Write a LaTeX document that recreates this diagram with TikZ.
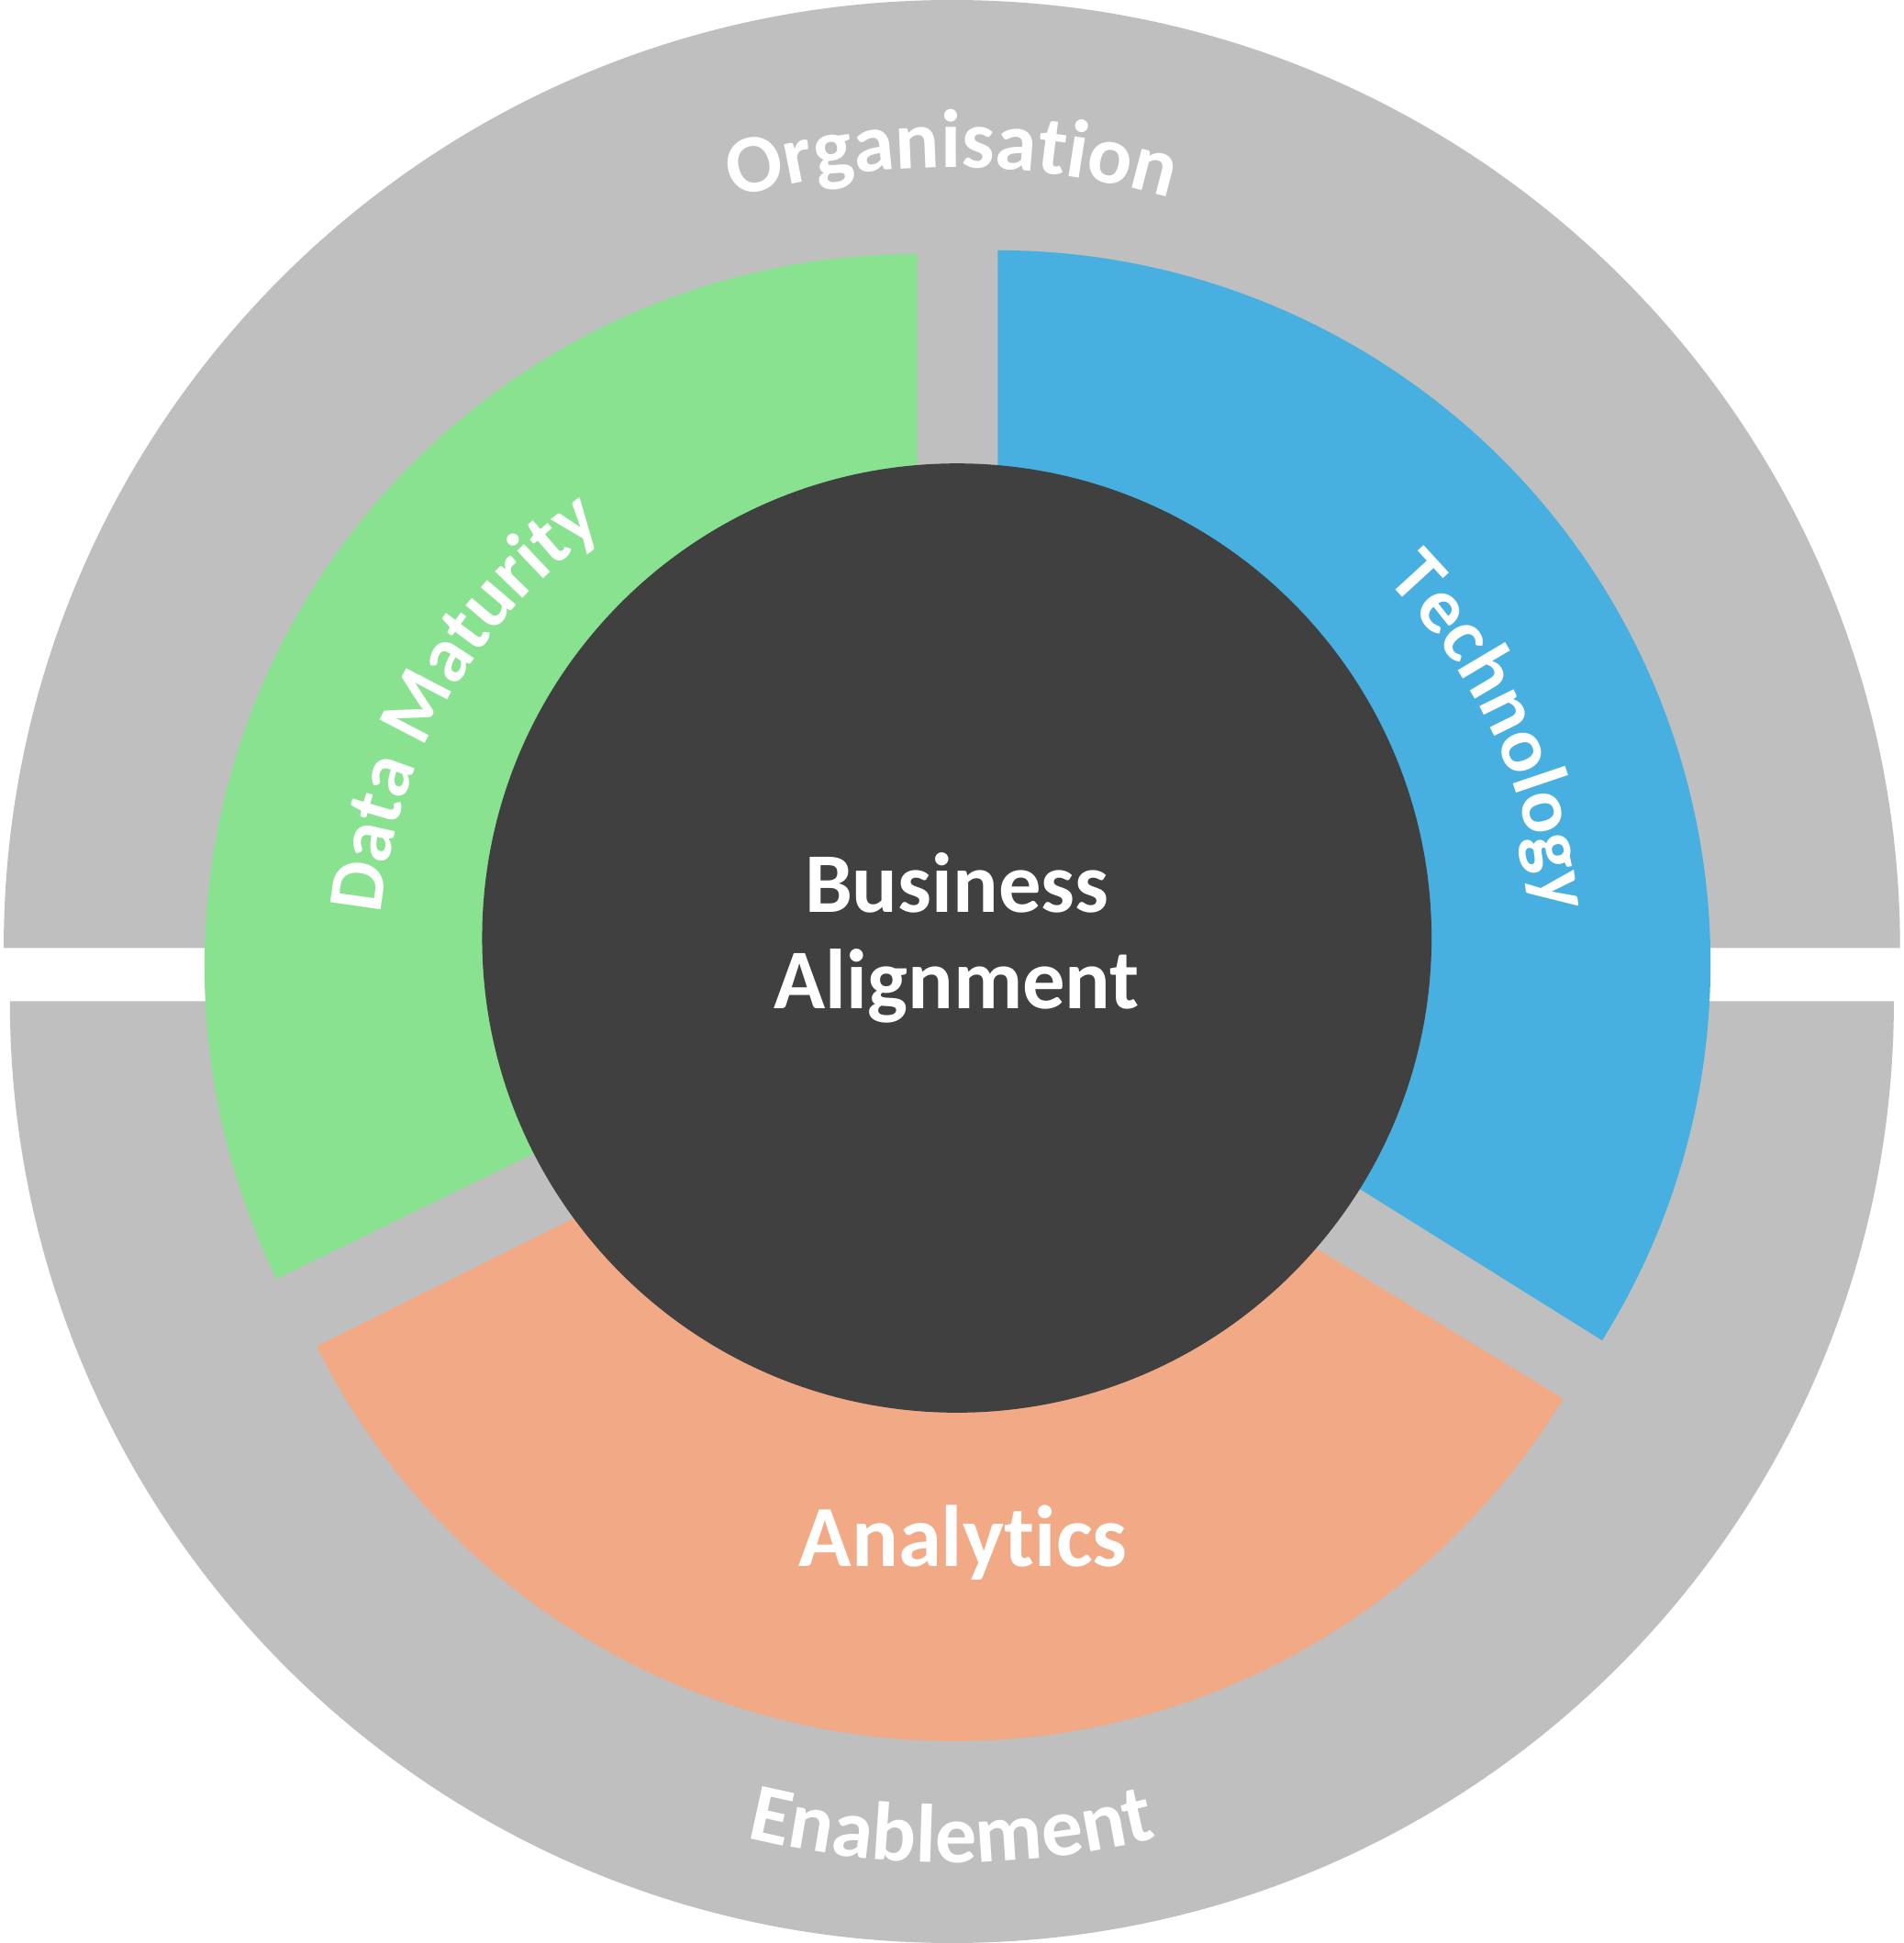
\documentclass[tikz,border=0pt]{standalone}
\usepackage{fontspec}
\setmainfont{Carlito}[Ligatures=NoCommon]
\usetikzlibrary{decorations.text}
\definecolor{ringgray}{HTML}{BFBFBF}
\definecolor{datagreen}{HTML}{88E290}
\definecolor{techblue}{HTML}{47B0E0}
\definecolor{anaorange}{HTML}{F1AA85}
\definecolor{coredark}{HTML}{404040}
\tikzset{
  lbl/.style={text=white,font=\bfseries\fontsize{19.5}{24}\selectfont,align=center},
  curved/.style={decorate,decoration={text along path,text align=center,
    text color=white,text={#1}}}
}
\begin{document}
\begin{tikzpicture}[x=0.01cm,y=0.01cm]
\useasboundingbox[fill=white] (0,0) rectangle (1536,1568);

% outer ring halves
\fill[ringgray] (3,803) arc[start angle=180,end angle=0,radius=765] -- cycle;
\fill[ringgray] (8,760) arc[start angle=180,end angle=360,radius=760] -- cycle;

% sectors
\fill[techblue] (805,791) -- ++(-32:575) arc[start angle=-32,end angle=90,radius=575] -- cycle;
\fill[datagreen] (740,788) -- ++(90:575) arc[start angle=90,end angle=206,radius=575] -- cycle;
\fill[anaorange] (770,738) -- ++(206.5:575) arc[start angle=206.5,end angle=328.7,radius=575] -- cycle;

% core
\coordinate (core) at (772,811);
\fill[coredark] (core) circle[radius=383];
\node[lbl] (biz) at (core) {Business\\[-2pt]Alignment};
\node[lbl,font=\bfseries\fontsize{20}{24}\selectfont] (ana) at (777,323) {Analytics};

% curved labels
\path[curved={|\bfseries\fontsize{19}{19}\selectfont|Organisation}]
  (768,803) ++(125:630) arc[start angle=125,end angle=55,radius=630];
\path[curved={|\bfseries\fontsize{19}{19}\selectfont|Enablement}]
  (768,760) ++(235:695) arc[start angle=235,end angle=305,radius=695];
\path[curved={|\bfseries\fontsize{18}{18}\selectfont|Data Maturity}]
  (740,788) ++(205:435) arc[start angle=205,end angle=95,radius=435];
\path[curved={|\bfseries\fontsize{18}{18}\selectfont|Technology}]
  (805,791) ++(65:440) arc[start angle=65,end angle=-15,radius=440];
\end{tikzpicture}
\end{document}
